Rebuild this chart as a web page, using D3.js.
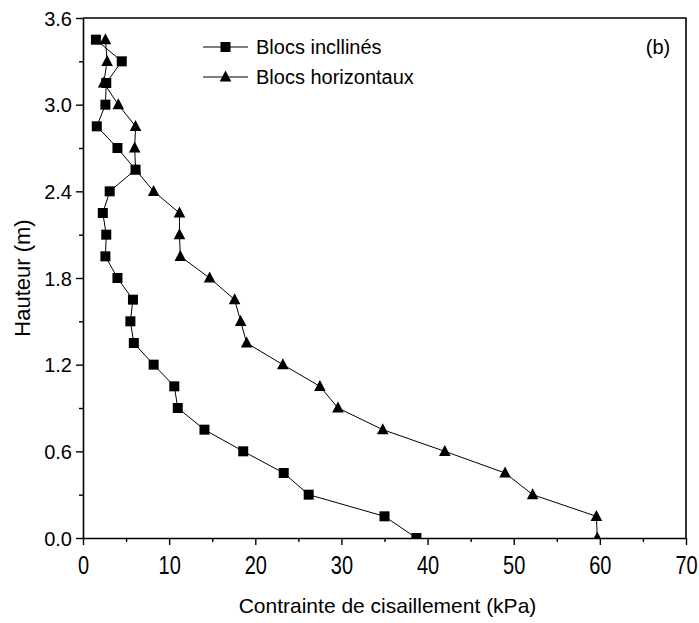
<!DOCTYPE html>
<html>
<head>
<meta charset="utf-8">
<script src="https://cdn.jsdelivr.net/npm/d3@7"></script>
<style>
  html, body { margin: 0; padding: 0; background: #fff; }
  svg { display: block; font-family: "Liberation Sans", Arial, sans-serif; }
</style>
</head>
<body>
<svg id="chart" width="699" height="623"></svg>
<script>
  // heights (m) shared by both series
  const heights = [0.00, 0.15, 0.30, 0.45, 0.60, 0.75, 0.90, 1.05, 1.20, 1.35, 1.50, 1.65,
    1.80, 1.95, 2.10, 2.25, 2.40, 2.55, 2.70, 2.85, 3.00, 3.15, 3.30, 3.45];
  // shear stress (kPa)
  const inclines = [38.7, 35.0, 26.2, 23.3, 18.6, 14.1, 11.0, 10.6, 8.2, 5.9, 5.5, 5.8,
    4.0, 2.6, 2.7, 2.3, 3.1, 6.1, 4.0, 1.6, 2.6, 2.7, 4.5, 1.5];
  const horizontaux = [59.7, 59.6, 52.2, 49.0, 42.0, 34.8, 29.6, 27.5, 23.2, 19.0, 18.3, 17.6,
    14.7, 11.3, 11.2, 11.2, 8.2, 6.1, 6.0, 6.1, 4.1, 2.4, 2.8, 2.6];
  const xTicks = [0, 10, 20, 30, 40, 50, 60, 70];
  const yTicks = [0, 0.6, 1.2, 1.8, 2.4, 3.0, 3.6];
  const legendLabels = ["Blocs incllinés", "Blocs horizontaux"];

  const svg = d3.select("#chart");
  const m = { left: 83, right: 686, top: 18, bottom: 538 };

  const x = d3.scaleLinear().domain([0, 70]).range([m.left, m.right]);
  const y = d3.scaleLinear().domain([0, 3.6]).range([m.bottom, m.top]);

  svg.append("defs").append("clipPath").attr("id", "plot-clip")
    .append("rect")
    .attr("x", m.left).attr("y", m.top)
    .attr("width", m.right - m.left).attr("height", m.bottom - m.top);

  const series = [
    { name: legendLabels[0], values: inclines, shape: "square" },
    { name: legendLabels[1], values: horizontaux, shape: "triangle" },
  ];

  function marker(sel, shape) {
    if (shape === "square") {
      sel.append("rect").attr("x", -5).attr("y", -5).attr("width", 10).attr("height", 10);
    } else {
      sel.append("path").attr("d", "M0,-6.4L5.8,4.6L-5.8,4.6Z");
    }
  }

  const plot = svg.append("g").attr("clip-path", "url(#plot-clip)");
  const line = d3.line().x((d) => x(d[0])).y((d) => y(d[1]));

  series.forEach((s) => {
    const pts = s.values.map((v, i) => [v, heights[i]]);
    plot.append("path")
      .attr("d", line(pts))
      .attr("fill", "none")
      .attr("stroke", "#000")
      .attr("stroke-width", 1);
    plot.append("g").selectAll("g").data(pts).join("g")
      .attr("transform", (d) => `translate(${x(d[0])},${y(d[1])})`)
      .attr("fill", "#000")
      .each(function () { marker(d3.select(this), s.shape); });
  });

  // frame
  svg.append("path")
    .attr("d", `M${m.left},${m.top}H${m.right}V${m.bottom}`)
    .attr("fill", "none").attr("stroke", "#000").attr("stroke-width", 1.6);

  // axes
  const xMinor = d3.range(5, 70, 10);
  const yMinor = d3.range(0.3, 3.6, 0.6);

  const gx = svg.append("g").attr("transform", `translate(0,${m.bottom})`)
    .call(d3.axisBottom(x).tickValues(xTicks).tickSize(7).tickSizeOuter(0).tickFormat(d3.format("d")));
  svg.append("g").attr("transform", `translate(0,${m.bottom})`)
    .call(d3.axisBottom(x).tickValues(xMinor).tickSize(4).tickSizeOuter(0).tickFormat(""))
    .call((g) => g.select(".domain").remove());

  const gy = svg.append("g").attr("transform", `translate(${m.left},0)`)
    .call(d3.axisLeft(y).tickValues(yTicks).tickSize(7).tickSizeOuter(0).tickFormat(d3.format(".1f")));
  svg.append("g").attr("transform", `translate(${m.left},0)`)
    .call(d3.axisLeft(y).tickValues(yMinor).tickSize(4).tickSizeOuter(0).tickFormat(""))
    .call((g) => g.select(".domain").remove());

  svg.selectAll(".domain").attr("stroke-width", 1.6);
  svg.selectAll(".tick line").attr("stroke-width", 1.4);

  gx.selectAll(".tick text")
    .attr("y", 36).attr("dy", null)
    .attr("font-size", 25)
    .attr("fill", "#000")
    .attr("font-family", "Liberation Sans, Arial, sans-serif")
    .attr("transform", "scale(0.8,1)");

  gy.selectAll(".tick text")
    .attr("x", -11).attr("dy", "0.36em")
    .attr("font-size", 20)
    .attr("fill", "#000")
    .attr("font-family", "Liberation Sans, Arial, sans-serif");

  // axis titles
  svg.append("text")
    .attr("x", (m.left + m.right) / 2 + 3).attr("y", 613)
    .attr("text-anchor", "middle").attr("font-size", 21)
    .text("Contrainte de cisaillement (kPa)");

  svg.append("text")
    .attr("transform", `translate(30,${(m.top + m.bottom) / 2}) rotate(-90)`)
    .attr("text-anchor", "middle").attr("font-size", 22)
    .text("Hauteur (m)");

  // panel tag
  svg.append("text")
    .attr("x", 658).attr("y", 54)
    .attr("text-anchor", "middle").attr("font-size", 20)
    .text("(b)");

  // legend
  const legend = svg.append("g").attr("transform", "translate(203,47)");
  series.forEach((s, i) => {
    const row = legend.append("g").attr("transform", `translate(0,${i * 30})`);
    row.append("line").attr("x1", 0).attr("x2", 45).attr("stroke", "#000").attr("stroke-width", 1);
    const mk = row.append("g").attr("transform", "translate(22.5,0)").attr("fill", "#000");
    marker(mk, s.shape);
    row.append("text")
      .attr("x", 53).attr("y", 0).attr("dy", "0.36em")
      .attr("font-size", 20)
      .text(s.name);
  });
</script>
</body>
</html>
